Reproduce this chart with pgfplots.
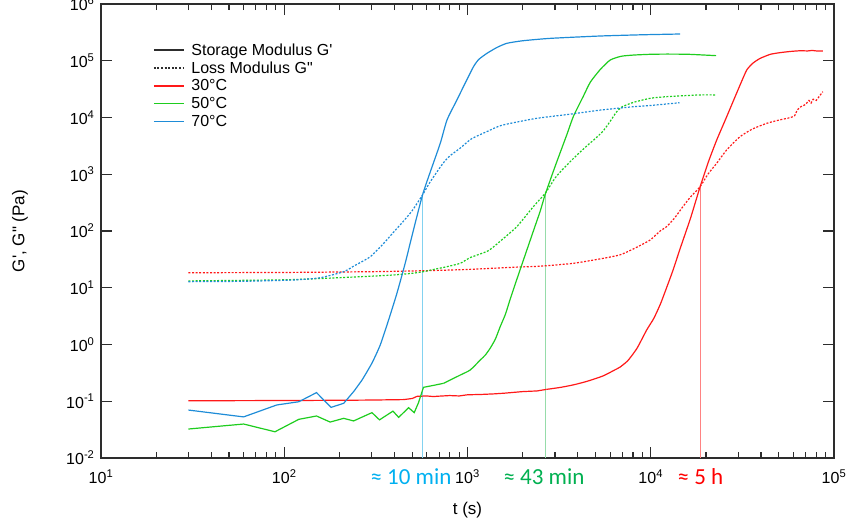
\documentclass[border=0pt]{standalone}
\usepackage{fontspec}
\setmainfont{Liberation Sans}
\newfontfamily\calib{Carlito}
\usepackage{pgfplots}
\pgfplotsset{compat=1.18}
\definecolor{cR}{RGB}{255,25,25}
\definecolor{cG}{RGB}{30,205,30}
\definecolor{cB}{RGB}{30,140,215}
\definecolor{lR}{RGB}{255,130,130}
\definecolor{lG}{RGB}{150,220,170}
\definecolor{lB}{RGB}{130,210,240}
\definecolor{tB}{RGB}{0,176,240}
\definecolor{tG}{RGB}{0,176,80}
\definecolor{tR}{RGB}{255,0,0}
\definecolor{axc}{RGB}{45,45,45}
\begin{document}
\begin{tikzpicture}
\begin{axis}[
  scale only axis, width=733pt, height=454pt,
  xmode=log, ymode=log, xmin=10, xmax=1e5, ymin=1e-2, ymax=1e6,
  xtick={10,100,1000,10000,100000},
  xticklabels={10\textsuperscript{1},10\textsuperscript{2},10\textsuperscript{3},10\textsuperscript{4},10\textsuperscript{5}},
  ytick={1e-2,1e-1,1,10,100,1000,1e4,1e5,1e6},
  yticklabels={10\textsuperscript{-2},10\textsuperscript{-1},10\textsuperscript{0},10\textsuperscript{1},10\textsuperscript{2},10\textsuperscript{3},10\textsuperscript{4},10\textsuperscript{5},10\textsuperscript{6}},
  major tick length=11pt, minor tick length=6pt, yminorticks=false,
  tick style={line width=1.2pt, color=axc},
  axis line style={line width=1.4pt, color=axc},
  tick label style={font=\fontsize{16}{18}\selectfont},
  xticklabel style={yshift=-8pt},
  yticklabel style={xshift=-3pt},
  label style={font=\fontsize{17}{19}\selectfont},
  xlabel={t (s)}, ylabel={G\textquotesingle, G\textquotedbl{} (Pa)},
  xlabel style={at={(axis description cs:0.5,-0.1145)}, anchor=center},
  ylabel style={at={(axis description cs:-0.1105,0.5)}, anchor=center},
  unbounded coords=jump,
  legend style={draw=none, fill=none, at={(axis description cs:0.071,0.918)}, anchor=north west,
    font=\fontsize{16}{18}\selectfont, inner sep=0pt, row sep=1pt, column sep=5pt},
  legend cell align=left,
  legend image code/.code={\draw[#1] (0pt,0pt) -- (30pt,0pt);},
]
\addlegendimage{axc, line width=1.2pt}
\addlegendentry{Storage Modulus G\textquotesingle}
\addlegendimage{axc, line width=1.2pt, dash pattern=on 2pt off 1.6pt}
\addlegendentry{Loss Modulus G\textquotedbl}
\addlegendimage{cR, line width=1.2pt}
\addlegendentry{30°C}
\addlegendimage{cG, line width=1.2pt}
\addlegendentry{50°C}
\addlegendimage{cB, line width=1.2pt}
\addlegendentry{70°C}

% tick marks drawn as one jumping path each (minor x, major x, major y)
\addplot[axc, line width=1.1pt, forget plot] coordinates {
(20,0.01) (20,0.01276) (20,nan) (20,783900) (20,1e6) (20,nan)
(30,0.01) (30,0.01276) (30,nan) (30,783900) (30,1e6) (30,nan)
(40,0.01) (40,0.01276) (40,nan) (40,783900) (40,1e6) (40,nan)
(50,0.01) (50,0.01276) (50,nan) (50,783900) (50,1e6) (50,nan)
(60,0.01) (60,0.01276) (60,nan) (60,783900) (60,1e6) (60,nan)
(70,0.01) (70,0.01276) (70,nan) (70,783900) (70,1e6) (70,nan)
(80,0.01) (80,0.01276) (80,nan) (80,783900) (80,1e6) (80,nan)
(90,0.01) (90,0.01276) (90,nan) (90,783900) (90,1e6) (90,nan)
(200,0.01) (200,0.01276) (200,nan) (200,783900) (200,1e6) (200,nan)
(300,0.01) (300,0.01276) (300,nan) (300,783900) (300,1e6) (300,nan)
(400,0.01) (400,0.01276) (400,nan) (400,783900) (400,1e6) (400,nan)
(500,0.01) (500,0.01276) (500,nan) (500,783900) (500,1e6) (500,nan)
(600,0.01) (600,0.01276) (600,nan) (600,783900) (600,1e6) (600,nan)
(700,0.01) (700,0.01276) (700,nan) (700,783900) (700,1e6) (700,nan)
(800,0.01) (800,0.01276) (800,nan) (800,783900) (800,1e6) (800,nan)
(900,0.01) (900,0.01276) (900,nan) (900,783900) (900,1e6) (900,nan)
(2000,0.01) (2000,0.01276) (2000,nan) (2000,783900) (2000,1e6) (2000,nan)
(3000,0.01) (3000,0.01276) (3000,nan) (3000,783900) (3000,1e6) (3000,nan)
(4000,0.01) (4000,0.01276) (4000,nan) (4000,783900) (4000,1e6) (4000,nan)
(5000,0.01) (5000,0.01276) (5000,nan) (5000,783900) (5000,1e6) (5000,nan)
(6000,0.01) (6000,0.01276) (6000,nan) (6000,783900) (6000,1e6) (6000,nan)
(7000,0.01) (7000,0.01276) (7000,nan) (7000,783900) (7000,1e6) (7000,nan)
(8000,0.01) (8000,0.01276) (8000,nan) (8000,783900) (8000,1e6) (8000,nan)
(9000,0.01) (9000,0.01276) (9000,nan) (9000,783900) (9000,1e6) (9000,nan)
(20000,0.01) (20000,0.01276) (20000,nan) (20000,783900) (20000,1e6) (20000,nan)
(30000,0.01) (30000,0.01276) (30000,nan) (30000,783900) (30000,1e6) (30000,nan)
(40000,0.01) (40000,0.01276) (40000,nan) (40000,783900) (40000,1e6) (40000,nan)
(50000,0.01) (50000,0.01276) (50000,nan) (50000,783900) (50000,1e6) (50000,nan)
(60000,0.01) (60000,0.01276) (60000,nan) (60000,783900) (60000,1e6) (60000,nan)
(70000,0.01) (70000,0.01276) (70000,nan) (70000,783900) (70000,1e6) (70000,nan)
(80000,0.01) (80000,0.01276) (80000,nan) (80000,783900) (80000,1e6) (80000,nan)
(90000,0.01) (90000,0.01276) (90000,nan) (90000,783900) (90000,1e6)};
\addplot[axc, line width=1.2pt, forget plot] coordinates {
(100,0.01) (100,0.01563) (100,nan) (100,639900) (100,1e6) (100,nan)
(1000,0.01) (1000,0.01563) (1000,nan) (1000,639900) (1000,1e6) (1000,nan)
(10000,0.01) (10000,0.01563) (10000,nan) (10000,639900) (10000,1e6) (10000,nan)
(10,0.1) (11.48,0.1) (nan,0.1) (87090,0.1) (1e5,0.1) (nan,0.1)
(10,1) (11.48,1) (nan,1) (87090,1) (1e5,1) (nan,1)
(10,10) (11.48,10) (nan,10) (87090,10) (1e5,10) (nan,10)
(10,100) (11.48,100) (nan,100) (87090,100) (1e5,100) (nan,100)
(10,1000) (11.48,1000) (nan,1000) (87090,1000) (1e5,1000) (nan,1000)
(10,1e4) (11.48,1e4) (nan,1e4) (87090,1e4) (1e5,1e4) (nan,1e4)
(10,1e5) (11.48,1e5) (nan,1e5) (87090,1e5) (1e5,1e5)};

% crossover markers
\addplot[lB, line width=0.9pt, forget plot] coordinates {(568,0.01) (568,430)};
\addplot[lG, line width=0.9pt, forget plot] coordinates {(2654,0.01) (2654,461)};
\addplot[lR, line width=0.9pt, forget plot] coordinates {(18600,0.01) (18600,604)};

% 30 C  G'
\addplot[cR, line width=1.2pt, forget plot] coordinates {
(30,0.102) (100,0.103) (200,0.104) (300,0.105) (450,0.107) (500,0.112) (530,0.122)
(600,0.124) (650,0.121) (700,0.123) (800,0.126) (900,0.124) (1000,0.130) (1200,0.132)
(1400,0.135) (1600,0.139) (2000,0.148) (2400,0.152) (2700,0.162)};
\addplot[cR, line width=1.2pt, smooth, tension=0.35, forget plot] coordinates {
(2700,0.162) (3200,0.175)
(3800,0.195) (4500,0.225) (5500,0.28) (6400,0.36) (6800,0.40) (7500,0.52) (8400,0.85)
(9500,1.8) (10400,2.9) (11300,5.2) (12200,10) (13200,20) (14500,50) (16500,170)
(18600,604) (20700,1700) (22900,4000) (25500,9000) (28300,20000) (31000,40000)
(33400,68700) (36000,90000) (39500,110000) (45000,130000) (50800,139000)
(58000,146000) (65300,150000) (72000,149000) (76000,152000) (80000,149000) (86900,149000)};
% 30 C  G''
\addplot[cR, line width=1.2pt, smooth, tension=0.35, dash pattern=on 2pt off 1.6pt, forget plot] coordinates {
(30,18.4) (100,18.6) (300,19.2) (600,20) (1000,21) (1800,23) (2500,24) (3800,27)
(5500,33) (6800,38) (8000,48) (9900,69) (11250,100) (12200,119) (13500,170)
(15000,270) (16500,400) (18600,604) (20500,1000) (22900,1560) (26000,2700)
(30700,4590) (36000,6300) (43000,7900) (50000,9000) (58000,10000) (61000,10800)
(63000,13500) (66000,15500) (70000,17000) (73000,20000) (75000,18000) (77000,21000)
(80000,20000) (83000,23500) (86900,28500)};

% 50 C  G'
\addplot[cG, line width=1.2pt, forget plot] coordinates {
(30,0.0324) (60,0.0397) (89,0.029) (120,0.048) (150,0.055) (178,0.043) (211,0.050)
(239,0.045) (301,0.063) (331,0.047) (392,0.067) (421,0.052) (477,0.077) (512,0.063)
(540,0.094) (575,0.176) (650,0.19) (740,0.207)};
\addplot[cG, line width=1.2pt, smooth, tension=0.35, forget plot] coordinates {
(740,0.207) (805,0.237) (914,0.29) (1035,0.356)
(1172,0.53) (1250,0.65) (1330,0.86) (1420,1.25) (1508,2.06) (1610,3.4) (1710,6.3)
(1820,11.5) (1939,21) (2107,46) (2300,105) (2500,230) (2654,440) (3000,1350)
(3485,5000) (3785,10500) (4295,24000) (4680,42000) (5300,70000) (6010,103000)
(6900,120000) (8060,126000) (10000,130000) (12240,131000) (16000,130000) (22760,123000)};
% 50 C  G''
\addplot[cG, line width=1.2pt, smooth, tension=0.35, dash pattern=on 2pt off 1.6pt, forget plot] coordinates {
(30,13.2) (100,13.8) (171,14.7) (300,16) (395,16.8) (500,18) (575,19.2) (653,21)
(772,23.5) (914,27) (1035,34) (1300,45) (1540,70) (1862,120) (2290,270) (2654,461)
(3000,850) (3250,1150) (3785,1900) (4400,3000) (5000,4300) (5500,5800) (6000,8500)
(6500,12500) (7000,15500) (8060,18500) (9930,21800) (12000,23200) (15070,24200)
(18600,25000) (22760,25000)};

% 70 C  G'
\addplot[cB, line width=1.2pt, forget plot] coordinates {
(30,0.070) (60,0.053) (91,0.086) (120,0.098) (150,0.142) (180,0.078) (211,0.092)
(240,0.15) (266,0.237)};
\addplot[cB, line width=1.2pt, smooth, tension=0.35, forget plot] coordinates {
(266,0.237) (301,0.47) (334,0.98) (371,2.7) (412,8) (457,27) (507,104)
(568,430) (620,1000) (710,3500) (773,9040) (875,20300) (970,40000) (1078,78500)
(1150,105000) (1276,135000) (1450,172000) (1641,203000) (2000,225000) (2823,248000)
(5300,273000) (9000,287000) (14450,296000)};
% 70 C  G''
\addplot[cB, line width=1.2pt, smooth, tension=0.35, dash pattern=on 2pt off 1.6pt, forget plot] coordinates {
(30,12.8) (60,13.0) (112,13.7) (157,15) (211,19.2) (239,24) (294,35) (348,60)
(400,100) (448,150) (500,230) (568,430) (620,700) (681,1100) (740,1600) (800,2100)
(914,2900) (1050,4200) (1300,5800) (1540,7300) (2350,9600) (3600,11400) (5300,13500)
(8060,15500) (10000,16300) (14350,18200)};

\end{axis}
\node[font=\calib\fontsize{23}{26}\selectfont, text=tB] at (310pt,-19pt) {≈ 10 min};
\node[font=\calib\fontsize{23}{26}\selectfont, text=tG] at (443pt,-19pt) {≈ 43 min};
\node[font=\calib\fontsize{23}{26}\selectfont, text=tR] at (599.5pt,-19pt) {≈ 5 h};
\pgfresetboundingbox
\path[use as bounding box] (-101pt,-70pt) rectangle (745pt,458pt);
\end{tikzpicture}
\end{document}
